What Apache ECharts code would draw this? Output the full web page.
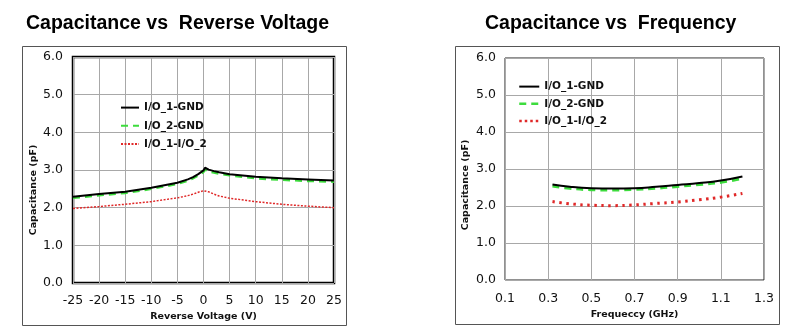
<!DOCTYPE html>
<html><head><meta charset="utf-8">
<script src="https://cdn.jsdelivr.net/npm/echarts@6/dist/echarts.min.js"></script>
<style>html,body{margin:0;padding:0;background:#fff}#c{width:792px;height:333px}</style>
</head><body><div id="c"></div>
<script>
// ---- Data ----
const voltage = [-25, -20, -15, -10, -5, -3, -2, -1, 0, 0.3, 1, 2, 3, 5, 10, 15, 20, 25];
const v_io1gnd = [2.29, 2.36, 2.42, 2.53, 2.66, 2.75, 2.81, 2.89, 2.99, 3.06, 3.01, 2.97, 2.94, 2.89, 2.82, 2.78, 2.75, 2.72];
const v_io2gnd = [2.26, 2.33, 2.39, 2.50, 2.63, 2.72, 2.78, 2.86, 2.95, 3.01, 2.97, 2.93, 2.90, 2.86, 2.78, 2.74, 2.71, 2.69];
const v_io1io2 = [1.98, 2.03, 2.09, 2.16, 2.26, 2.32, 2.36, 2.41, 2.45, 2.47, 2.42, 2.36, 2.31, 2.25, 2.16, 2.09, 2.04, 2.00];

const freq = [0.32, 0.4, 0.5, 0.6, 0.7, 0.8, 0.9, 1.0, 1.1, 1.2];
const f_io1gnd = [2.58, 2.52, 2.48, 2.47, 2.48, 2.52, 2.57, 2.62, 2.69, 2.80];
const f_io2gnd = [2.54, 2.48, 2.44, 2.43, 2.45, 2.48, 2.53, 2.58, 2.64, 2.75];
const f_io1io2 = [2.12, 2.06, 2.02, 2.01, 2.03, 2.07, 2.11, 2.17, 2.24, 2.34];

const seriesNames = ['I/O_1-GND', 'I/O_2-GND', 'I/O_1-I/O_2'];
const voltTicks = [-25, 25, 5];
const freqTicks = [0.1, 0.3, 0.5, 0.7, 0.9, 1.1, 1.3];
const capTicks = [0, 6, 1];
const titles = ['Capacitance vs  Reverse Voltage', 'Capacitance vs  Frequency'];
const xNames = ['Reverse Voltage (V)', 'Frequeccy (GHz)'];
const yName = 'Capacitance (pF)';

// ---- Chart ----
const zip = (xs, ys) => xs.map((x, i) => [x, ys[i]]);
const BLACK = '#000000', GREEN = '#3ddc3d', RED = '#e02828';
const lblFont = {fontFamily: 'DejaVu Sans', fontSize: 12.5, color: '#111'};
const nameFont = {fontFamily: 'DejaVu Sans', fontSize: 9.5, fontWeight: 'bold', color: '#111'};
const splitLine = {show: true, lineStyle: {color: '#a8a8a8', width: 1}};
const titleFont = {fontFamily: 'Liberation Sans', fontSize: 19.5, fontWeight: 'bold', color: '#000'};
const legendText = {fontFamily: 'DejaVu Sans', fontSize: 10.5, fontWeight: 'bold', color: '#111'};
const noSymbol = {color: 'rgba(0,0,0,0)', borderWidth: 0, opacity: 0};

const chart = echarts.init(document.getElementById('c'), null, {renderer: 'canvas'});
chart.setOption({
  animation: false,
  backgroundColor: '#fff',
  graphic: [
    {type: 'rect', shape: {x: 22.5, y: 46.5, width: 324, height: 279}, style: {fill: 'none', stroke: '#555', lineWidth: 1}, z: -10},
    {type: 'rect', shape: {x: 455.5, y: 46.5, width: 324, height: 278}, style: {fill: 'none', stroke: '#555', lineWidth: 1}, z: -10}
  ],
  title: [
    {text: titles[0], left: 26, top: 14, textStyle: titleFont, padding: 0},
    {text: titles[1], left: 485, top: 14, textStyle: titleFont, padding: 0}
  ],
  legend: [
    {
      orient: 'vertical', left: 120, top: 102, padding: 0, itemWidth: 18, itemHeight: 14, itemGap: 7,
      textStyle: legendText, itemStyle: noSymbol,
      data: seriesNames.map(n => ({name: n}))
    },
    {
      orient: 'vertical', left: 518, top: 81, padding: 0, itemWidth: 20, itemHeight: 14, itemGap: 6,
      textStyle: legendText, itemStyle: noSymbol,
      data: [
        {name: seriesNames[0]},
        {name: seriesNames[1], lineStyle: {color: GREEN, width: 2.5, type: [7, 5]}},
        {name: seriesNames[2], lineStyle: {color: RED, width: 2.5, type: [2.5, 3]}}
      ]
    }
  ],
  grid: [
    {left: 73, top: 57, width: 261, height: 226, show: true, borderColor: '#000', borderWidth: 2.5, backgroundColor: '#fff'},
    {left: 505, top: 58, width: 259, height: 222, show: true, borderColor: '#222', borderWidth: 1, backgroundColor: '#fff'}
  ],
  xAxis: [
    {
      gridIndex: 0, type: 'value', min: voltTicks[0], max: voltTicks[1], interval: voltTicks[2],
      axisLine: {show: false}, axisTick: {show: false}, splitLine: splitLine,
      axisLabel: Object.assign({margin: 11}, lblFont),
      name: xNames[0], nameLocation: 'middle', nameGap: 25, nameTextStyle: nameFont
    },
    {
      gridIndex: 1, type: 'value', min: freqTicks[0], max: freqTicks[freqTicks.length - 1],
      axisLine: {show: false}, axisTick: {show: false, customValues: freqTicks}, splitLine: splitLine,
      axisLabel: Object.assign({margin: 12, customValues: freqTicks, formatter: v => v.toFixed(1)}, lblFont),
      name: xNames[1], nameLocation: 'middle', nameGap: 28, nameTextStyle: nameFont
    }
  ],
  yAxis: [
    {
      gridIndex: 0, type: 'value', min: capTicks[0], max: capTicks[1], interval: capTicks[2],
      axisLine: {show: false}, axisTick: {show: false}, splitLine: splitLine,
      axisLabel: Object.assign({margin: 10, formatter: v => v.toFixed(1)}, lblFont),
      name: yName, nameLocation: 'middle', nameGap: 34,
      nameTextStyle: Object.assign({padding: [0, 40, 0, 0]}, nameFont)
    },
    {
      gridIndex: 1, type: 'value', min: capTicks[0], max: capTicks[1], interval: capTicks[2],
      axisLine: {show: false}, axisTick: {show: false}, splitLine: splitLine,
      axisLabel: Object.assign({margin: 9, formatter: v => v.toFixed(1)}, lblFont),
      name: yName, nameLocation: 'middle', nameGap: 34,
      nameTextStyle: Object.assign({padding: [0, 32, 0, 0]}, nameFont)
    }
  ],
  series: [
    {name: seriesNames[0], type: 'line', xAxisIndex: 0, yAxisIndex: 0, data: zip(voltage, v_io1gnd), symbol: 'none', z: 4,
     lineStyle: {color: BLACK, width: 2}, itemStyle: {color: BLACK}},
    {name: seriesNames[1], type: 'line', xAxisIndex: 0, yAxisIndex: 0, data: zip(voltage, v_io2gnd), symbol: 'none', z: 3,
     lineStyle: {color: GREEN, width: 2.5, type: [7, 5]}, itemStyle: {color: GREEN}},
    {name: seriesNames[2], type: 'line', xAxisIndex: 0, yAxisIndex: 0, data: zip(voltage, v_io1io2), symbol: 'none', z: 3,
     lineStyle: {color: RED, width: 1.5, type: [2, 1.5]}, itemStyle: {color: RED}},
    {name: seriesNames[0], type: 'line', xAxisIndex: 1, yAxisIndex: 1, data: zip(freq, f_io1gnd), symbol: 'none', smooth: true, z: 4,
     lineStyle: {color: BLACK, width: 2}, itemStyle: {color: BLACK}},
    {name: seriesNames[1], type: 'line', xAxisIndex: 1, yAxisIndex: 1, data: zip(freq, f_io2gnd), symbol: 'none', smooth: true, z: 3,
     lineStyle: {color: GREEN, width: 3, type: [7, 5]}, itemStyle: {color: GREEN}},
    {name: seriesNames[2], type: 'line', xAxisIndex: 1, yAxisIndex: 1, data: zip(freq, f_io1io2), symbol: 'none', smooth: true, z: 3,
     lineStyle: {color: RED, width: 3, type: [2.5, 4.5]}, itemStyle: {color: RED}}
  ]
});
</script></body></html>
